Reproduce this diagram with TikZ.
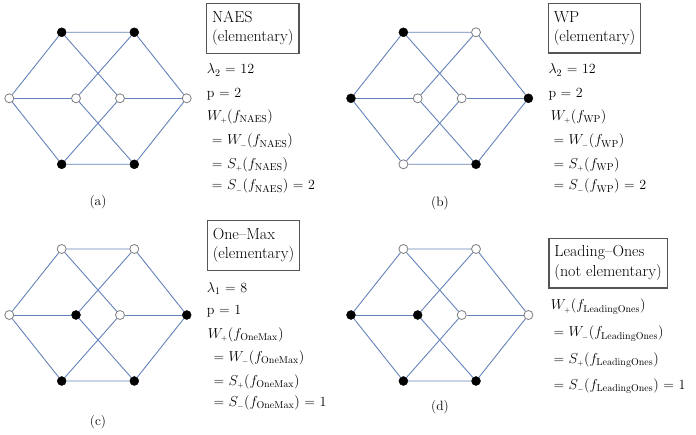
\documentclass[tikz,border=0pt]{standalone}
\usepackage{amsmath}
\usepackage{xcolor}
\usetikzlibrary{positioning}

\definecolor{edgeblue}{RGB}{100,130,185}
\definecolor{boxgray}{RGB}{85,85,85}
\definecolor{ringgray}{RGB}{125,125,125}

\begin{document}
\begin{tikzpicture}[
    x=1pt, y=-1pt,
    edge/.style={draw=edgeblue, line width=0.9pt},
    one node/.style={circle, fill=black, draw=black, minimum size=9pt, inner sep=0pt},
    zero node/.style={circle, fill=white, draw=ringgray, line width=0.8pt, minimum size=9pt, inner sep=0pt},
    name box/.style={draw=boxgray, line width=1.2pt, align=left, anchor=north west, inner xsep=5.5pt, inner ysep=7.5pt, font=\fontsize{16}{19.5}\selectfont},
    fact/.style={anchor=base west, inner sep=0pt, font=\fontsize{14}{16}\selectfont},
    caption/.style={font=\fontsize{13.5}{15}\selectfont}
]
    \useasboundingbox (0,0) rectangle (696,435);

    % --- (a): NAES ---
    \begin{scope}[shift={(98,98.3)}]
        \node[one node] (aTL) at (-36.3,-66) {};
        \node[one node] (aTR) at (36.3,-66) {};
        \node[zero node] (aL) at (-88.7,0) {};
        \node[zero node] (aIL) at (-22,0) {};
        \node[zero node] (aIR) at (22,0) {};
        \node[zero node] (aR) at (88.7,0) {};
        \node[one node] (aBL) at (-36.3,66) {};
        \node[one node] (aBR) at (36.3,66) {};

        \draw[edge] (aTL) -- (aTR) -- (aR) -- (aBR) -- (aBL) -- (aL) -- (aTL);
        \draw[edge] (aL) -- (aIL);
        \draw[edge] (aIR) -- (aR);
        \draw[edge] (aTL) -- (aIR) -- (aBL);
        \draw[edge] (aTR) -- (aIL) -- (aBR);

        \node[caption] (aCap) at (0,103.4) {(a)};
    \end{scope}
    \node[name box] (aBox) at (206,2.7) {NAES\\(elementary)};
    \node[fact] (aF1) at (206.7,74) {$\lambda_2$ = 12};
    \node[fact] (aF2) at (206.7,97.3) {p = 2};
    \node[fact] (aF3) at (207,120.7) {$W_{\scriptscriptstyle+}(f_{\mathrm{NAES}})$};
    \node[fact] (aF4) at (211.7,145) {= $W_{\scriptscriptstyle-}(f_{\mathrm{NAES}})$};
    \node[fact] (aF5) at (211.7,168.3) {= $S_{\scriptscriptstyle+}(f_{\mathrm{NAES}})$};
    \node[fact] (aF6) at (211.7,190) {= $S_{\scriptscriptstyle-}(f_{\mathrm{NAES}})$ = 2};

    % --- (b): WP ---
    \begin{scope}[shift={(439.7,98.3)}]
        \node[one node] (bTL) at (-36.3,-66) {};
        \node[zero node] (bTR) at (36.3,-66) {};
        \node[one node] (bL) at (-88.7,0) {};
        \node[zero node] (bIL) at (-22,0) {};
        \node[zero node] (bIR) at (22,0) {};
        \node[one node] (bR) at (88.7,0) {};
        \node[zero node] (bBL) at (-36.3,66) {};
        \node[one node] (bBR) at (36.3,66) {};

        \draw[edge] (bTL) -- (bTR) -- (bR) -- (bBR) -- (bBL) -- (bL) -- (bTL);
        \draw[edge] (bL) -- (bIL);
        \draw[edge] (bIR) -- (bR);
        \draw[edge] (bTL) -- (bIR) -- (bBL);
        \draw[edge] (bTR) -- (bIL) -- (bBR);

        \node[caption] (bCap) at (0.3,104.7) {(b)};
    \end{scope}
    \node[name box] (bBox) at (547.7,3) {WP\\(elementary)};
    \node[fact] (bF1) at (548.3,74) {$\lambda_2$ = 12};
    \node[fact] (bF2) at (548.3,97.3) {p = 2};
    \node[fact] (bF3) at (550.7,120.7) {$W_{\scriptscriptstyle+}(f_{\mathrm{WP}})$};
    \node[fact] (bF4) at (553.3,145) {= $W_{\scriptscriptstyle-}(f_{\mathrm{WP}})$};
    \node[fact] (bF5) at (553.3,168.3) {= $S_{\scriptscriptstyle+}(f_{\mathrm{WP}})$};
    \node[fact] (bF6) at (553.3,190) {= $S_{\scriptscriptstyle-}(f_{\mathrm{WP}})$ = 2};

    % --- (c): One-Max ---
    \begin{scope}[shift={(98,315)}]
        \node[zero node] (cTL) at (-36.3,-66) {};
        \node[zero node] (cTR) at (36.3,-66) {};
        \node[zero node] (cL) at (-88.7,0) {};
        \node[one node] (cIL) at (-22,0) {};
        \node[zero node] (cIR) at (22,0) {};
        \node[one node] (cR) at (88.7,0) {};
        \node[one node] (cBL) at (-36.3,66) {};
        \node[one node] (cBR) at (36.3,66) {};

        \draw[edge] (cTL) -- (cTR) -- (cR) -- (cBR) -- (cBL) -- (cL) -- (cTL);
        \draw[edge] (cL) -- (cIL);
        \draw[edge] (cIR) -- (cR);
        \draw[edge] (cTL) -- (cIR) -- (cBL);
        \draw[edge] (cTR) -- (cIL) -- (cBR);

        \node[caption] (cCap) at (0,106.7) {(c)};
    \end{scope}
    \node[name box] (cBox) at (206.7,220) {One--Max\\(elementary)};
    \node[fact] (cF1) at (206.7,292.7) {$\lambda_1$ = 8};
    \node[fact] (cF2) at (206.7,314.5) {p = 1};
    \node[fact] (cF3) at (207.7,338.3) {$W_{\scriptscriptstyle+}(f_{\mathrm{OneMax}})$};
    \node[fact] (cF4) at (213.3,361.7) {= $W_{\scriptscriptstyle-}(f_{\mathrm{OneMax}})$};
    \node[fact] (cF5) at (213.3,385) {= $S_{\scriptscriptstyle+}(f_{\mathrm{OneMax}})$};
    \node[fact] (cF6) at (213.3,406.7) {= $S_{\scriptscriptstyle-}(f_{\mathrm{OneMax}})$ = 1};

    % --- (d): Leading-Ones ---
    \begin{scope}[shift={(439.7,315)}]
        \node[zero node] (dTL) at (-36.3,-66) {};
        \node[zero node] (dTR) at (36.3,-66) {};
        \node[one node] (dL) at (-88.7,0) {};
        \node[one node] (dIL) at (-22,0) {};
        \node[zero node] (dIR) at (22,0) {};
        \node[zero node] (dR) at (88.7,0) {};
        \node[one node] (dBL) at (-36.3,66) {};
        \node[one node] (dBR) at (36.3,66) {};

        \draw[edge] (dTL) -- (dTR) -- (dR) -- (dBR) -- (dBL) -- (dL) -- (dTL);
        \draw[edge] (dL) -- (dIL);
        \draw[edge] (dIR) -- (dR);
        \draw[edge] (dTL) -- (dIR) -- (dBL);
        \draw[edge] (dTR) -- (dIL) -- (dBR);

        \node[caption] (dCap) at (0.3,91.7) {(d)};
    \end{scope}
    \node[name box] (dBox) at (548.3,237.7) {Leading--Ones\\(not elementary)};
    \node[fact] (dF1) at (550.7,310) {$W_{\scriptscriptstyle+}(f_{\mathrm{LeadingOnes}})$};
    \node[fact] (dF2) at (553.3,337) {= $W_{\scriptscriptstyle-}(f_{\mathrm{LeadingOnes}})$};
    \node[fact] (dF3) at (553.3,363) {= $S_{\scriptscriptstyle+}(f_{\mathrm{LeadingOnes}})$};
    \node[fact] (dF4) at (553.3,389) {= $S_{\scriptscriptstyle-}(f_{\mathrm{LeadingOnes}})$ = 1};
\end{tikzpicture}
\end{document}
